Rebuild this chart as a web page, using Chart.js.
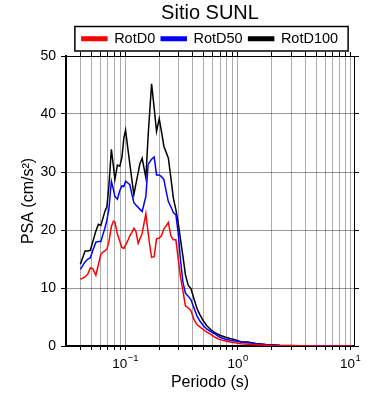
<!DOCTYPE html>
<html><head><meta charset="utf-8">
<script src="https://cdn.jsdelivr.net/npm/chart.js@4"></script>
<style>html,body{margin:0;padding:0;background:#fff}#wrap{width:390px;height:400px}</style>
</head><body><div id="wrap"><canvas id="c" width="390" height="400"></canvas></div>
<script>
const periods = [0.040,0.044,0.0466,0.049,0.0516,0.0549,0.0578,0.0608,0.0634,0.066,0.0688,0.0716,0.0754,0.0786,0.081,0.0853,0.0897,0.0935,0.0974,0.1008,0.1057,0.110,0.1147,0.1195,0.1245,0.1305,0.135,0.1416,0.1466,0.1527,0.160,0.1658,0.1717,0.181,0.190,0.2007,0.210,0.221,0.2324,0.242,0.2547,0.268,0.2823,0.296,0.3095,0.326,0.343,0.363,0.384,0.408,0.434,0.461,0.496,0.532,0.578,0.627,0.695,0.77,0.853,0.945,1.067,1.233,1.452,1.782,2.37,3.57,5.37,8.1,10.4];
const rotD0 = [11.5,11.9,12.4,13.5,13.3,12.2,14.0,15.8,16.2,16.4,16.7,17.9,20.6,21.5,21.4,19.3,18.0,17.0,16.8,17.4,18.2,19.0,19.6,20.3,19.8,17.7,18.4,19.4,21.0,22.8,19.5,17.2,15.3,15.4,18.5,18.6,19.0,20.2,20.8,21.3,19.0,18.3,18.3,15.0,12.0,9.5,6.9,6.6,6.1,4.6,3.7,3.3,2.8,2.4,2.0,1.5,1.1,0.9,0.7,0.55,0.4,0.3,0.2,0.12,0.06,0.03,0.02,0.015,0.01];
const rotD50 = [13.2,14.5,15.0,15.2,16.5,17.9,18.0,18.0,19.2,20.3,21.7,23.5,28.4,27.0,25.8,25.3,26.8,27.6,27.5,28.4,28.1,27.8,26.2,24.7,24.3,23.9,23.6,23.2,24.4,25.8,31.3,31.8,32.2,32.6,29.5,29.5,29.2,28.7,26.5,24.9,24.0,23.0,22.6,19.5,15.0,11.0,9.1,8.6,8.0,6.6,5.2,4.3,3.5,2.9,2.5,2.1,1.5,1.2,1.0,0.85,0.7,0.58,0.4,0.22,0.1,0.05,0.03,0.02,0.015];
const rotD100 = [14.1,16.4,16.4,16.5,18.0,19.8,21.0,20.8,22.0,23.2,24.0,27.5,33.9,31.0,28.7,31.2,31.0,32.5,35.9,37.2,34.0,31.4,28.7,26.1,27.9,29.9,31.4,32.4,30.8,29.0,36.3,40.8,45.2,41.0,37.0,39.2,37.0,34.4,33.3,32.4,29.0,25.5,23.5,21.2,18.5,15.5,12.3,10.5,9.9,8.2,6.5,5.4,4.3,3.5,2.8,2.3,1.85,1.55,1.3,1.1,0.75,0.7,0.45,0.25,0.12,0.06,0.04,0.03,0.02];
const seriesNames = ['RotD0','RotD50','RotD100'];
const seriesColors = ['#ff0000','#0000ff','#000000'];
const xTickValues = [0.1, 1, 10];
const xTickBase = '10';
const xTickExponents = ['\u22121','0','1'];
const yTickValues = [0, 10, 20, 30, 40, 50];

const FONT = 'Liberation Sans, Arial, Helvetica, sans-serif';
Chart.defaults.font.family = FONT;
Chart.defaults.color = '#000';

const seriesValues = [rotD0, rotD50, rotD100];
const datasets = seriesValues.map((vals, i) => ({
  label: seriesNames[i],
  data: periods.map((t, j) => ({x: t, y: vals[j]})),
  borderColor: seriesColors[i],
  backgroundColor: seriesColors[i],
  borderWidth: 1.5,
  pointRadius: 0,
  tension: 0
}));

function keepIntegerMantissa(scale) {
  scale.ticks = scale.ticks.filter(t => {
    const e = Math.floor(Math.log10(t.value) + 1e-9);
    const m = t.value / Math.pow(10, e);
    return Math.abs(m - Math.round(m)) < 1e-6;
  });
}

const legendFrame = {
  id: 'legendFrame',
  afterDraw(chart) {
    const hb = chart.legend && chart.legend.legendHitBoxes;
    if (!hb || !hb.length) return;
    const ctx = chart.ctx;
    const l = Math.min(...hb.map(b => b.left)) - 7;
    const r = Math.max(...hb.map(b => b.left + b.width)) + 10;
    const t = Math.min(...hb.map(b => b.top)) - 5;
    const bt = Math.max(...hb.map(b => b.top + b.height)) + 5;
    ctx.save();
    ctx.lineWidth = 1.5;
    ctx.strokeStyle = '#000';
    ctx.strokeRect(l, t, r - l, bt - t);
    ctx.restore();
  }
};

// decade labels with real superscript exponents, placed by the x scale
const powerLabels = {
  id: 'powerLabels',
  afterDraw(chart) {
    const sx = chart.scales.x;
    const ctx = chart.ctx;
    ctx.save();
    ctx.fillStyle = '#000';
    ctx.textBaseline = 'alphabetic';
    ctx.textAlign = 'left';
    xTickValues.forEach((v, i) => {
      const px = sx.getPixelForValue(v);
      ctx.font = '13.5px ' + FONT;
      const wb = ctx.measureText(xTickBase).width;
      ctx.font = '9.5px ' + FONT;
      const we = ctx.measureText(xTickExponents[i]).width;
      const x0 = px - (wb + we) / 2;
      ctx.font = '13.5px ' + FONT;
      ctx.fillText(xTickBase, x0, sx.top + 21.5);
      ctx.font = '9.5px ' + FONT;
      ctx.fillText(xTickExponents[i], x0 + wb + 0.5, sx.top + 15);
    });
    ctx.restore();
  }
};

const XMIN = 0.0298, XMAX = 10.8;
new Chart(document.getElementById('c'), {
  type: 'line',
  data: { datasets },
  plugins: [legendFrame, powerLabels],
  options: {
    responsive: false,
    animation: false,
    devicePixelRatio: 1,
    layout: { padding: { top: 0.5, left: 0, right: 0, bottom: 0 } },
    plugins: {
      title: {
        display: true, text: 'Sitio SUNL', fullSize: false,
        font: { size: 20, weight: 'normal', family: FONT, lineHeight: 1.2 },
        color: '#000', padding: { top: 1, bottom: 0 }
      },
      legend: {
        display: true, fullSize: false,
        labels: { boxWidth: 25, boxHeight: 3.5, padding: 6, color: '#000',
                  font: { size: 14.5, family: FONT } }
      },
      tooltip: { enabled: false }
    },
    scales: {
      x: {
        type: 'logarithmic', position: 'bottom', min: XMIN, max: XMAX,
        afterBuildTicks: keepIntegerMantissa,
        afterFit: s => { s.height = 54; },
        grid: { color: 'rgba(0,0,0,0.33)', lineWidth: 1, tickLength: 4, tickColor: '#000' },
        border: { display: true, color: '#000', width: 2 },
        ticks: { display: false, autoSkip: false },
        title: { display: true, text: 'Periodo (s)', font: { size: 16, family: FONT }, padding: { top: 0, bottom: 8 } }
      },
      x2: {
        type: 'logarithmic', position: 'top', min: XMIN, max: XMAX,
        afterBuildTicks: keepIntegerMantissa,
        afterFit: s => { s.height = 0; },
        grid: { drawOnChartArea: false, tickLength: 4, tickColor: '#000' },
        border: { display: true, color: '#000', width: 1 },
        ticks: { display: false, autoSkip: false }
      },
      y: {
        type: 'linear', position: 'left', min: 0, max: 50,
        afterBuildTicks: s => { s.ticks = yTickValues.map(v => ({value: v})); },
        afterFit: s => { s.width = 66; },
        grid: { color: 'rgba(0,0,0,0.4)', lineWidth: 1, tickLength: 5, tickColor: '#000' },
        border: { display: true, color: '#000', width: 2 },
        ticks: { padding: 5, font: { size: 14, family: FONT } },
        title: { display: true, text: 'PSA (cm/s\u00B2)', font: { size: 16, family: FONT }, padding: { top: 19, bottom: 0 } }
      },
      y2: {
        type: 'linear', position: 'right', min: 0, max: 50,
        afterBuildTicks: s => { s.ticks = yTickValues.map(v => ({value: v})); },
        afterFit: s => { s.width = 36; },
        grid: { drawOnChartArea: false, tickLength: 5, tickColor: '#000' },
        border: { display: true, color: '#000', width: 1 },
        ticks: { display: false }
      }
    }
  }
});
</script>
</body></html>
